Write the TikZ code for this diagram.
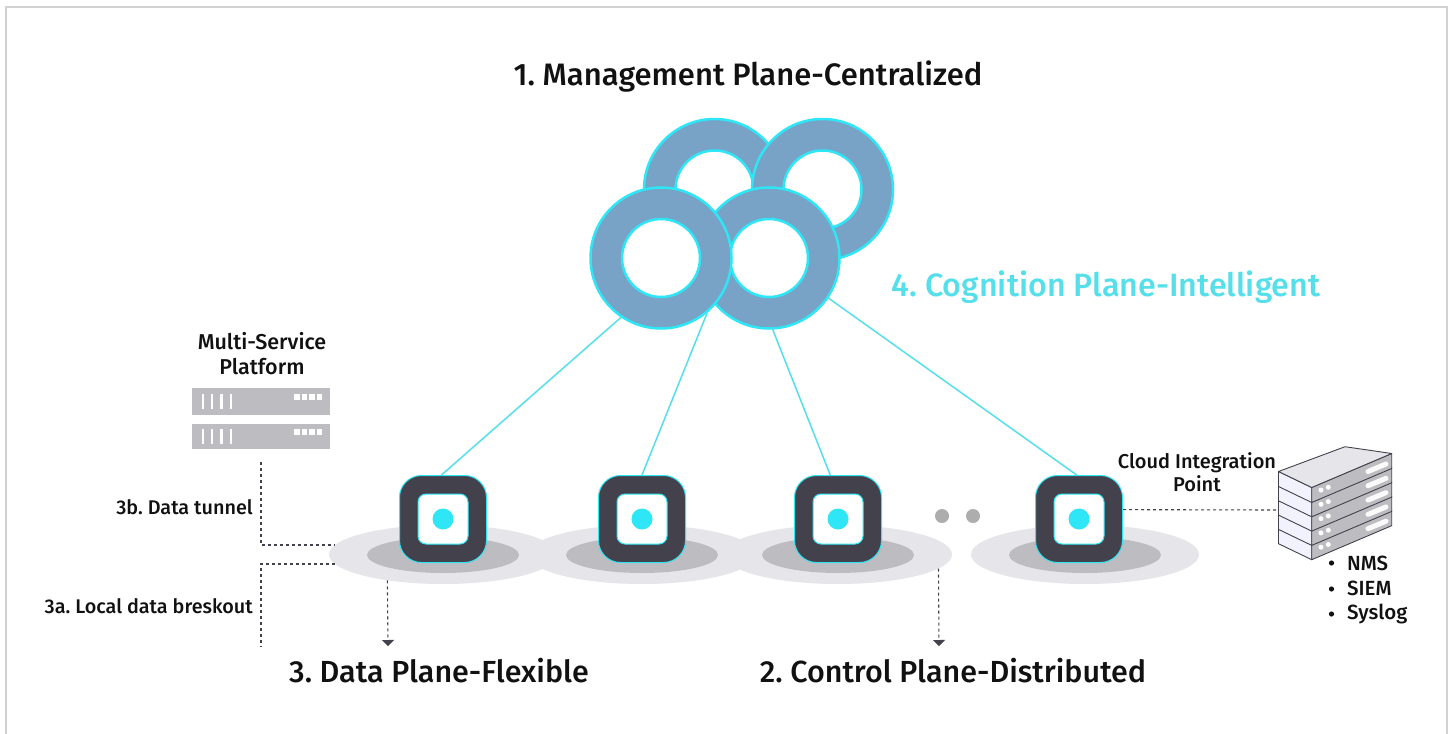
\documentclass[tikz,border=0pt]{standalone}
\usepackage{fontspec}
\setmainfont{Fira Sans Medium}
\usetikzlibrary{arrows.meta,shapes.geometric}
\definecolor{cy}{HTML}{2EE6F5}
\definecolor{cyl}{HTML}{55DFEA}
\definecolor{ringb}{HTML}{78A3C6}
\definecolor{dk}{HTML}{43424C}
\definecolor{gm}{HTML}{BDBCC1}
\definecolor{gl}{HTML}{E5E5EA}
\definecolor{txt}{HTML}{111111}
\tikzset{
 ringo/.style={circle,draw=cy,line width=2.5pt,fill=ringb,minimum size=141pt,inner sep=0pt},
 ringi/.style={circle,draw=cy,line width=2.5pt,fill=white,minimum size=78pt,inner sep=0pt},
 devo/.style={rectangle,rounded corners=22pt,draw=cy,line width=1pt,fill=dk,minimum size=87pt,inner sep=0pt},
 devi/.style={rectangle,rounded corners=8pt,draw=cy,line width=1pt,fill=white,minimum size=50pt,inner sep=0pt},
 devd/.style={circle,fill=cy,minimum size=21pt,inner sep=0pt},
 ello/.style={ellipse,fill=gl,minimum width=228pt,minimum height=59pt,inner sep=0pt},
 elli/.style={ellipse,fill=gm,minimum width=152pt,minimum height=36pt,inner sep=0pt},
 link/.style={draw=cyl,line width=1.5pt},
 dotl/.style={draw=dk,line width=1.1pt,dash pattern=on 3pt off 3pt},
 arr/.style={dotl,-{Triangle[width=12pt,length=6pt,fill=dk]}},
 title/.style={font=\fontsize{30.5}{34}\selectfont,text=txt,inner sep=0pt},
 lab/.style={font=\fontsize{19.8}{24}\selectfont,text=txt,inner sep=0pt,align=center},
 rackb/.style={fill=gm,draw=none},
 srvl/.style={draw=dk,line width=.9pt,line join=round},
}
\frenchspacing
\begin{document}
\begin{tikzpicture}[x=1pt,y=-1pt]
\useasboundingbox (0,0) rectangle (1452,734);
\fill[white] (0,0) rectangle (1452,734);
\draw[draw=black!18,line width=2pt] (6,734) -- (6,7) -- (1447,7) -- (1447,734);

% platform ellipses
\foreach \n/\x in {1/443,2/642,3/838,4/1085}{
  \node[ello] (ell\n) at (\x,554.5) {};
}
\foreach \n/\x in {1/443,2/642,3/838,4/1085}{
  \node[elli] (eli\n) at (\x,555) {};
}

% devices (positions) and rings
\node[devo] (dev1) at (443,519) {};
\node[devo] (dev2) at (642,519) {};
\node[devo] (dev3) at (838,519) {};
\node[devo] (dev4) at (1079,519) {};
\foreach \n in {1,2,3,4}{
  \node[devi] (dvi\n) at (dev\n) {};
  \node[devd] (dvd\n) at (dev\n) {};
}
\node[circle,fill=black!32,minimum size=14pt,inner sep=0pt] (gap1) at (942,516) {};
\node[circle,fill=black!32,minimum size=14pt,inner sep=0pt] (gap2) at (973,516) {};

\node[ringo] (ringa) at (714.5,189.5) {};
\node[ringi] (ringah) at (ringa) {};
\node[ringo] (ringb) at (822.5,189.5) {};
\node[ringi] (ringbh) at (ringb) {};
\node[ringo] (ringd) at (769,258) {};
\node[ringi] (ringdh) at (ringd) {};
\node[ringo] (ringc) at (661,258) {};
\node[ringi] (ringch) at (ringc) {};

% cyan links
\draw[link] (ringc.236) -- (dev1.92);
\draw[link] (ringc.310) -- (dev2.north);
\draw[link] (ringd.273) -- (dev3.100);
\draw[link] (ringd.326) -- (dev4.93);

% rack
\node[rackb,minimum width=138pt,minimum height=27pt,inner sep=0pt] (rack1) at (261,401.5) {};
\node[rackb,minimum width=138pt,minimum height=25pt,inner sep=0pt] (rack2) at (261,436.5) {};
\foreach \yy in {394,429}{
  \foreach \xx in {203,212,221.5,231}{
    \fill[white] (\xx-1.2,\yy) rectangle (\xx+1.2,\yy+15);
  }
  \foreach \xx in {294,301.5,309,316.5}{
    \fill[white] (\xx,\yy) rectangle (\xx+5.5,\yy+6);
  }
}

% isometric server
\foreach \i in {4,3,2,1,0}{
  \pgfmathsetmacro{\dy}{\i*14.3}
  \begin{scope}[yshift=-\dy pt]
    \fill[white!95!blue,srvl] (1278.5,471.5) -- (1311.7,487.5) -- (1311.7,502.5) -- (1278.5,486.5) -- cycle;
    \fill[gm,srvl] (1311.7,487.5) -- (1391.7,453.5) -- (1391.7,468.5) -- (1311.7,502.5) -- cycle;
    \fill[white] (1321,490) circle (2.5pt);
    \fill[white] (1328.3,487.3) circle (2.5pt);
    \draw[white!92!gm,line width=5pt,line cap=round] (1368,471.5) -- (1386,464);
  \end{scope}
}
\fill[gl,srvl] (1278.5,471.5) -- (1345,446.7) -- (1391.7,453.5) -- (1311.7,487.5) -- cycle;
\coordinate (srv) at (1277,510);

% dotted connectors
\coordinate (ts) at (261,462);
\coordinate (te) at (261,647);
\coordinate (tip1) at (388,646);
\coordinate (tip2) at (939,646);
\draw[dotl] (ts) |- (ell1.175);
\draw[dotl] (ell1.185) -| (te);
\draw[arr] (ell1.205) -- (tip1);
\draw[arr] (ell3.352) -- (tip2);
\draw[dotl] (dev4.12) -- (srv);

% text
\node[title,font=\fontsize{31}{34}\selectfont] (t1) at (748,77) {1. Management Plane-Centralized};
\node[title,text=cyl,font=\fontsize{32.3}{36}\selectfont] (t4) at (1106,287) {4. Cognition Plane-Intelligent};
\node[title] (t3) at (439,671) {3. Data Plane-Flexible};
\node[title] (t2) at (953,671) {2. Control Plane-Distributed};
\node[lab,font=\fontsize{21.5}{25}\selectfont] (msp) at (262,353.5) {Multi-Service\\Platform};
\node[lab,anchor=east] (l3b) at (253,507) {3b. Data tunnel};
\node[lab,anchor=east] (l3a) at (253,606) {3a. Local data breskout};
\node[lab,font=\fontsize{20}{23}\selectfont] (cip) at (1197,472.5) {Cloud Integration\\Point};
\node[lab,anchor=west,font=\fontsize{20.5}{24}\selectfont] (nms) at (1347,563) {NMS};
\node[lab,anchor=west,font=\fontsize{20.5}{24}\selectfont] (siem) at (1347,588.5) {SIEM};
\node[lab,anchor=west,font=\fontsize{20.5}{24}\selectfont] (sys) at (1347,614) {Syslog};
\foreach \yy in {563,589,614}{ \fill[txt] (1331.5,\yy) circle (2.6pt); }
\end{tikzpicture}
\end{document}
